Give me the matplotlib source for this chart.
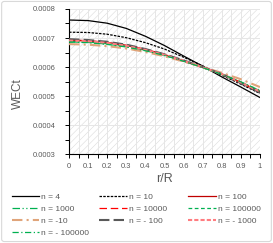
import numpy as np
import matplotlib.pyplot as plt
from matplotlib.patches import Rectangle, FancyBboxPatch
from matplotlib.ticker import MultipleLocator, FuncFormatter

r = [0, 0.1, 0.2, 0.3, 0.4, 0.5, 0.6, 0.7, 0.8, 0.9, 1.0]

n4 = [0.000762, 0.000760, 0.000751, 0.000733, 0.000706, 0.000674, 0.000638, 0.000603, 0.000566, 0.000531, 0.000495]
n10 = [0.000720, 0.000719, 0.000713, 0.000701, 0.000684, 0.000662, 0.000634, 0.000604, 0.000572, 0.000541, 0.000509]
n100 = [0.000693, 0.000691, 0.000685, 0.000675, 0.000661, 0.000643, 0.000622, 0.000600, 0.000576, 0.000546, 0.000514]
n1000 = [0.000688, 0.000686, 0.000680, 0.000671, 0.000658, 0.000641, 0.000620, 0.000598, 0.000575, 0.000548, 0.000517]
n10000 = [0.000692, 0.000690, 0.000684, 0.000674, 0.000660, 0.000642, 0.000621, 0.000599, 0.000576, 0.000547, 0.000515]
n100000 = [0.000687, 0.000685, 0.000679, 0.000670, 0.000657, 0.000640, 0.000620, 0.000598, 0.000575, 0.000548, 0.000518]
nm10 = [0.000679, 0.000677, 0.000672, 0.000664, 0.000652, 0.000637, 0.000619, 0.000600, 0.000580, 0.000558, 0.000531]
nm100 = [0.000696, 0.000693, 0.000687, 0.000677, 0.000662, 0.000644, 0.000623, 0.000600, 0.000576, 0.000545, 0.000512]
nm1000 = [0.000691, 0.000689, 0.000683, 0.000673, 0.000659, 0.000642, 0.000621, 0.000599, 0.000576, 0.000547, 0.000516]
nm100000 = [0.000686, 0.000684, 0.000678, 0.000669, 0.000656, 0.000640, 0.000620, 0.000598, 0.000575, 0.000549, 0.000519]

labels = ["n = 4", "n = 10", "n = 100", "n = 1000", "n = 10000", "n = 100000",
          "n = -10", "n = - 100", "n = - 1000", "n = - 100000"]
series = [n4, n10, n100, n1000, n10000, n100000, nm10, nm100, nm1000, nm100000]

styles = [
    dict(color="black", ls="-", lw=0.9),
    dict(color="black", ls=(0, (2, 1)), lw=0.9),
    dict(color="#c00000", ls="-", lw=0.9),
    dict(color="#00b050", ls=(0, (6, 2, 1, 2, 1, 2)), lw=0.9),
    dict(color="#ff0000", ls=(0, (6, 3)), lw=0.9),
    dict(color="#00b050", ls=(0, (3, 2)), lw=0.9),
    dict(color="#e0a47a", ls=(0, (5, 2, 1, 2)), lw=1.5),
    dict(color="#595959", ls=(0, (5, 2)), lw=1.5),
    dict(color="#ff7c80", ls=(0, (2, 1)), lw=1.5),
    dict(color="#00b050", ls=(0, (5, 2, 1, 2)), lw=0.9),
]

plt.rcParams['font.family'] = ['Liberation Sans', 'DejaVu Sans']
plt.rcParams['hatch.linewidth'] = 0.4
plt.rcParams['hatch.color'] = '#dcdcdc'

fig = plt.figure(figsize=(2.73, 2.43), dpi=100)
fig.patches.append(FancyBboxPatch((0.006, 0.006), 0.988, 0.988, boxstyle="round,pad=0,rounding_size=0.01",
                                  transform=fig.transFigure, fill=False, edgecolor="#d9d9d9", lw=0.8))
ax = fig.add_axes([0.253, 0.366, 0.699, 0.597])

ax.add_patch(Rectangle((0, 0), 1, 1, transform=ax.transAxes, facecolor="white",
                       edgecolor="#dcdcdc", hatch="/////", lw=0, zorder=0))

lines = []
for y, lab, st in zip(series, labels, styles):
    l, = ax.plot(r, y, label=lab, zorder=3, **st)
    lines.append(l)

ax.set_xlim(0, 1)
ax.set_ylim(0.0003, 0.0008)
ax.xaxis.set_major_locator(MultipleLocator(0.1))
ax.xaxis.set_minor_locator(MultipleLocator(0.05))
ax.yaxis.set_major_locator(MultipleLocator(0.0001))
ax.yaxis.set_minor_locator(MultipleLocator(0.00005))
ax.xaxis.set_major_formatter(FuncFormatter(lambda v, p: f"{v:g}"))
ax.yaxis.set_major_formatter(FuncFormatter(lambda v, p: f"{v:.4f}"))
ax.grid(True, which="both", axis="x", color="#e6e6e6", lw=0.7, zorder=1)
ax.grid(True, which="major", axis="y", color="#e6e6e6", lw=0.7, zorder=1)
ax.set_axisbelow(True)

for s in ["top", "right"]:
    ax.spines[s].set_visible(False)
for s in ["left", "bottom"]:
    ax.spines[s].set_color("black")
    ax.spines[s].set_linewidth(0.8)

ax.tick_params(which="both", direction="out", length=3, colors="black", labelcolor="#595959", labelsize=5.4, width=0.7)
ax.tick_params(axis="x", pad=3.5)
ax.tick_params(axis="y", pad=6.5)

ax.set_xlabel("r/R", fontsize=9, color="#595959")
ax.xaxis.set_label_coords(0.5, -0.13)
ax.set_ylabel("WECt", fontsize=8.5, color="#595959")
ax.yaxis.set_label_coords(-0.235, 0.416)

# three legends, one per column, so columns sit at fixed places like Excel
cols = [[0, 3, 6, 9], [1, 4, 7], [2, 5, 8]]
xs = [0.043, 0.364, 0.69]
for c, x0 in zip(cols, xs):
    leg = fig.legend([lines[i] for i in c], [labels[i] for i in c],
                     loc="upper left", bbox_to_anchor=(x0, 0.205), frameon=False,
                     fontsize=6, handlelength=3.3, handletextpad=0.24,
                     labelspacing=0.5, borderaxespad=0, borderpad=0)
    for t in leg.get_texts():
        t.set_color("#595959")

plt.savefig("out.png", dpi=100)
